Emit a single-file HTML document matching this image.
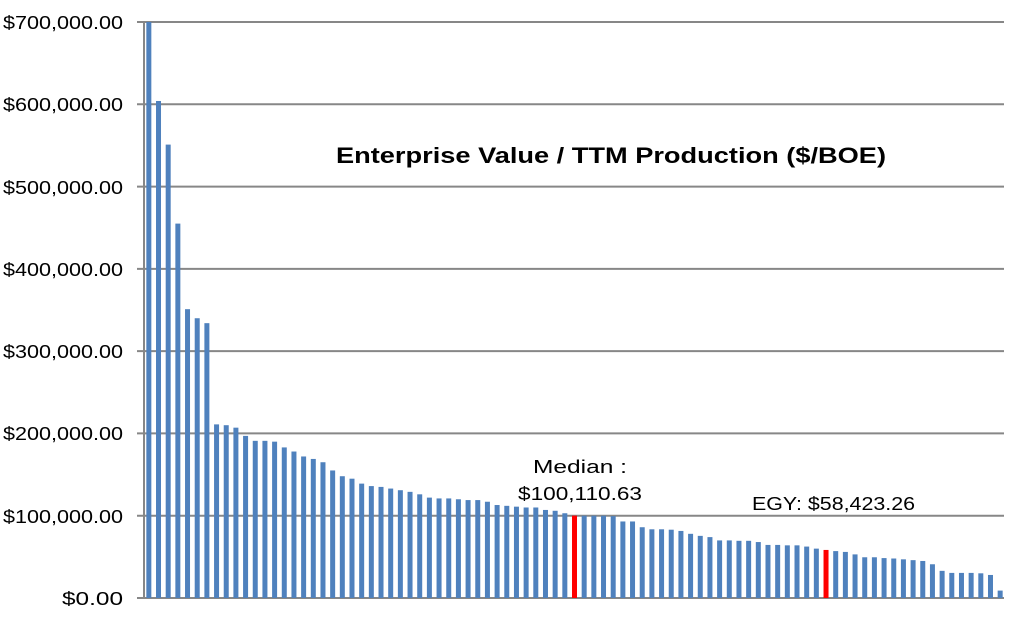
<!DOCTYPE html>
<html><head><meta charset="utf-8"><style>
html,body{margin:0;padding:0;background:#fff;width:1024px;height:619px;overflow:hidden}
svg{display:block;font-family:"Liberation Sans",sans-serif}
</style></head><body>
<svg id="c" width="1024" height="619" viewBox="0 0 1024 619">
<g stroke="#878787" stroke-width="2">
<line x1="137" y1="22" x2="1004" y2="22"/>
<line x1="137" y1="104.3" x2="1004" y2="104.3"/>
<line x1="137" y1="186.6" x2="1004" y2="186.6"/>
<line x1="137" y1="268.9" x2="1004" y2="268.9"/>
<line x1="137" y1="351.1" x2="1004" y2="351.1"/>
<line x1="137" y1="433.4" x2="1004" y2="433.4"/>
<line x1="137" y1="515.7" x2="1004" y2="515.7"/>
<line x1="137" y1="598" x2="1004" y2="598"/>
<line x1="144" y1="22" x2="144" y2="598"/>
</g>
<g id="bars"></g>
<g font-size="18" fill="#000" text-anchor="end">
<text x="123" y="29" textLength="120" lengthAdjust="spacingAndGlyphs">$700,000.00</text>
<text x="123" y="111" textLength="120" lengthAdjust="spacingAndGlyphs">$600,000.00</text>
<text x="123" y="194" textLength="120" lengthAdjust="spacingAndGlyphs">$500,000.00</text>
<text x="123" y="276" textLength="120" lengthAdjust="spacingAndGlyphs">$400,000.00</text>
<text x="123" y="358" textLength="120" lengthAdjust="spacingAndGlyphs">$300,000.00</text>
<text x="123" y="440" textLength="120" lengthAdjust="spacingAndGlyphs">$200,000.00</text>
<text x="123" y="523" textLength="120" lengthAdjust="spacingAndGlyphs">$100,000.00</text>
<text x="123" y="605" textLength="61" lengthAdjust="spacingAndGlyphs">$0.00</text>
</g>
<text x="611" y="163" font-size="22" font-weight="bold" text-anchor="middle" textLength="550" lengthAdjust="spacingAndGlyphs">Enterprise Value / TTM Production ($/BOE)</text>
<g font-size="18">
<text x="533" y="473" textLength="94" lengthAdjust="spacingAndGlyphs">Median :</text>
<text x="518" y="500" textLength="124" lengthAdjust="spacingAndGlyphs">$100,110.63</text>
<text x="752" y="510" textLength="163" lengthAdjust="spacingAndGlyphs">EGY: $58,423.26</text>
</g>
</svg>
<script>
var v=[720,604,551,455,351,340,334,211,210,207,197,191,191,190,183,178,172,169,165,155,148,145,139,136,135,133,131,129,126,122,121,121,120,119,119,117,113,112,111,110,110,107,106,103,100.1,100,100,100,99.5,93,93,86,83.5,83.5,83,81.5,78,75.5,74,70,70,69.5,69.5,68,64.5,64.5,64,64,62.5,60,58.4,57,56,53,49.5,49.5,48.5,48,47,46,45,41,33,30.5,30.5,30.5,30,28,9];
var g=document.getElementById('bars'),s='',pw=861/89;
for(var i=0;i<v.length;i++){var cx=144+pw*(i+0.5);var val=Math.min(v[i],700);var h=val*0.82286;
var col=(i==44||i==70)?'#FF0000':'#4F81BD';
s+='<rect x="'+(cx-2.5).toFixed(2)+'" y="'+(598-h).toFixed(2)+'" width="5" height="'+h.toFixed(2)+'" fill="'+col+'"/>';}
g.innerHTML=s;
</script>
</body></html>
